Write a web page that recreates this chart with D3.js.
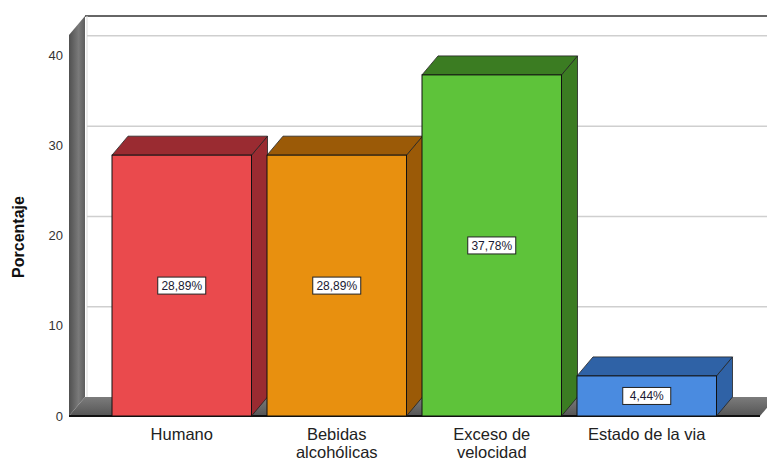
<!DOCTYPE html>
<html>
<head>
<meta charset="utf-8">
<script src="https://cdn.jsdelivr.net/npm/d3@7"></script>
<style>
body { margin: 0; background: #fff; }
text { font-family: "Liberation Sans", Arial, sans-serif; }
</style>
</head>
<body>
<div id="my-chart"></div>
<script>
var width = 767;
var height = 462;

// data
var categories = ["Humano", "Bebidas alcohólicas", "Exceso de velocidad", "Estado de la via"];
var catLines = [["Humano"], ["Bebidas", "alcohólicas"], ["Exceso de", "velocidad"], ["Estado de la via"]];
var values = [28.89, 28.89, 37.78, 4.44];
var valueLabels = ["28,89%", "28,89%", "37,78%", "4,44%"];
var yTicks = [0, 10, 20, 30, 40];
var frontColors = ["#ea4a4d", "#e8900f", "#5ec33a", "#4a8be0"];
var darkColors = ["#9a2b31", "#9b5a07", "#3b7c22", "#2f62a6"];

// depth offset of the 3D back plane
var dx = 16, dy = -19;

var svg = d3.select("div#my-chart").append("svg")
    .attr("width", width)
    .attr("height", height);

var xScale = d3.scaleBand().domain(categories).range([112, 716.5]).paddingInner(0.1).paddingOuter(0);
var yScale = d3.scaleLinear().domain([0, 42.2]).range([416, 35]);

var x0 = 69, x1 = 760;
var y0 = yScale(0), yTop = yScale(42.2);

// back wall
svg.append("rect")
    .attr("x", x0 + dx).attr("y", yTop + dy)
    .attr("width", x1 - x0).attr("height", y0 - yTop)
    .attr("fill", "#fff");
svg.append("line")
    .attr("x1", x0 + dx).attr("x2", width)
    .attr("y1", yTop + dy).attr("y2", yTop + dy)
    .attr("stroke", "#333").attr("stroke-width", 1.5);
svg.append("line")
    .attr("x1", x0 + dx + 2).attr("x2", x0 + dx + 2)
    .attr("y1", yTop + dy).attr("y2", y0 + dy)
    .attr("stroke", "#ddd");

// grid lines on the back wall
svg.selectAll(".grid")
    .data(yTicks.filter(function (d) { return d > 0; }))
    .enter()
    .append("line")
    .attr("class", "grid")
    .attr("x1", x0 + dx + 2).attr("x2", width)
    .attr("y1", function (d) { return yScale(d) + dy; })
    .attr("y2", function (d) { return yScale(d) + dy; })
    .attr("stroke", "#cfcfcf").attr("stroke-width", 1.5);

// gradient for the walls
var defs = svg.append("defs");
var wallGrad = defs.append("linearGradient").attr("id", "wall").attr("x1", 0).attr("x2", 1).attr("y1", 0).attr("y2", 0);
wallGrad.append("stop").attr("offset", "0%").attr("stop-color", "#505050");
wallGrad.append("stop").attr("offset", "60%").attr("stop-color", "#7a7a7a");
wallGrad.append("stop").attr("offset", "100%").attr("stop-color", "#5e5e5e");
var floorGrad = defs.append("linearGradient").attr("id", "floor").attr("x1", 0).attr("x2", 0).attr("y1", 0).attr("y2", 1);
floorGrad.append("stop").attr("offset", "0%").attr("stop-color", "#7c7c7c");
floorGrad.append("stop").attr("offset", "100%").attr("stop-color", "#555");

// left wall
svg.append("path")
    .attr("d", "M" + x0 + "," + y0 + "L" + x0 + "," + yTop + "L" + (x0 + dx) + "," + (yTop + dy) +
        "L" + (x0 + dx) + "," + (y0 + dy) + "Z")
    .attr("fill", "url(#wall)");

// floor
svg.append("path")
    .attr("d", "M" + x0 + "," + y0 + "L" + (x0 + dx) + "," + (y0 + dy) + "L" + (x1 + dx) + "," + (y0 + dy) +
        "L" + x1 + "," + y0 + "Z")
    .attr("fill", "url(#floor)");
svg.append("line")
    .attr("x1", x0).attr("x2", x1).attr("y1", y0).attr("y2", y0)
    .attr("stroke", "#111").attr("stroke-width", 2);

// bars
var bars = svg.selectAll(".bar")
    .data(values)
    .enter()
    .append("g")
    .attr("class", "bar");

bars.append("path")
    .attr("d", function (d, i) {
        var xl = xScale(categories[i]), xr = xl + xScale.bandwidth(), yt = yScale(d);
        return "M" + xr + "," + y0 + "L" + xr + "," + yt + "L" + (xr + dx) + "," + (yt + dy) +
            "L" + (xr + dx) + "," + (y0 + dy) + "Z";
    })
    .attr("fill", function (d, i) { return darkColors[i]; })
    .attr("stroke", "#222").attr("stroke-width", 0.8);

bars.append("path")
    .attr("d", function (d, i) {
        var xl = xScale(categories[i]), xr = xl + xScale.bandwidth(), yt = yScale(d);
        return "M" + xl + "," + yt + "L" + (xl + dx) + "," + (yt + dy) + "L" + (xr + dx) + "," + (yt + dy) +
            "L" + xr + "," + yt + "Z";
    })
    .attr("fill", function (d, i) { return darkColors[i]; })
    .attr("stroke", "#222").attr("stroke-width", 0.8);

bars.append("rect")
    .attr("x", function (d, i) { return xScale(categories[i]); })
    .attr("y", function (d) { return yScale(d); })
    .attr("width", xScale.bandwidth())
    .attr("height", function (d) { return y0 - yScale(d); })
    .attr("fill", function (d, i) { return frontColors[i]; })
    .attr("stroke", "#111").attr("stroke-width", 1);

// value labels
var lab = svg.selectAll(".vlabel")
    .data(values)
    .enter()
    .append("g")
    .attr("class", "vlabel")
    .attr("transform", function (d, i) {
        return "translate(" + (xScale(categories[i]) + xScale.bandwidth() / 2) + "," + ((yScale(d) + y0) / 2) + ")";
    });
lab.append("rect")
    .attr("x", -24).attr("y", -8.5).attr("width", 48).attr("height", 17)
    .attr("fill", "#fff").attr("stroke", "#222").attr("stroke-width", 1);
lab.append("text")
    .attr("text-anchor", "middle")
    .attr("dy", "0.36em")
    .style("font-size", "12px")
    .attr("fill", "#1a1a33")
    .text(function (d, i) { return valueLabels[i]; });

// y axis ticks
var yAxis = d3.axisLeft(yScale).tickValues(yTicks).tickSize(0).tickPadding(0);
var gy = svg.append("g")
    .attr("transform", "translate(63,0)")
    .call(yAxis);
gy.select(".domain").remove();
gy.selectAll("text")
    .style("font-family", "'Liberation Sans', Arial, sans-serif")
    .style("font-size", "13px")
    .attr("fill", "#333");

// x labels
var xl = svg.selectAll(".xlab")
    .data(catLines)
    .enter()
    .append("text")
    .attr("class", "xlab")
    .attr("text-anchor", "middle")
    .attr("x", function (d, i) { return xScale(categories[i]) + xScale.bandwidth() / 2; })
    .attr("y", 440)
    .style("font-size", "16.5px")
    .attr("fill", "#222");
xl.selectAll("tspan")
    .data(function (d) { return d; })
    .enter()
    .append("tspan")
    .attr("x", function () { return d3.select(this.parentNode).attr("x"); })
    .attr("dy", function (d, j) { return j === 0 ? 0 : 18; })
    .text(function (d) { return d; });

// y title
svg.append("text")
    .attr("text-anchor", "middle")
    .attr("transform", "translate(24,237) rotate(-90)")
    .style("font-size", "16px")
    .style("font-weight", "bold")
    .attr("fill", "#111")
    .text("Porcentaje");
</script>
</body>
</html>
